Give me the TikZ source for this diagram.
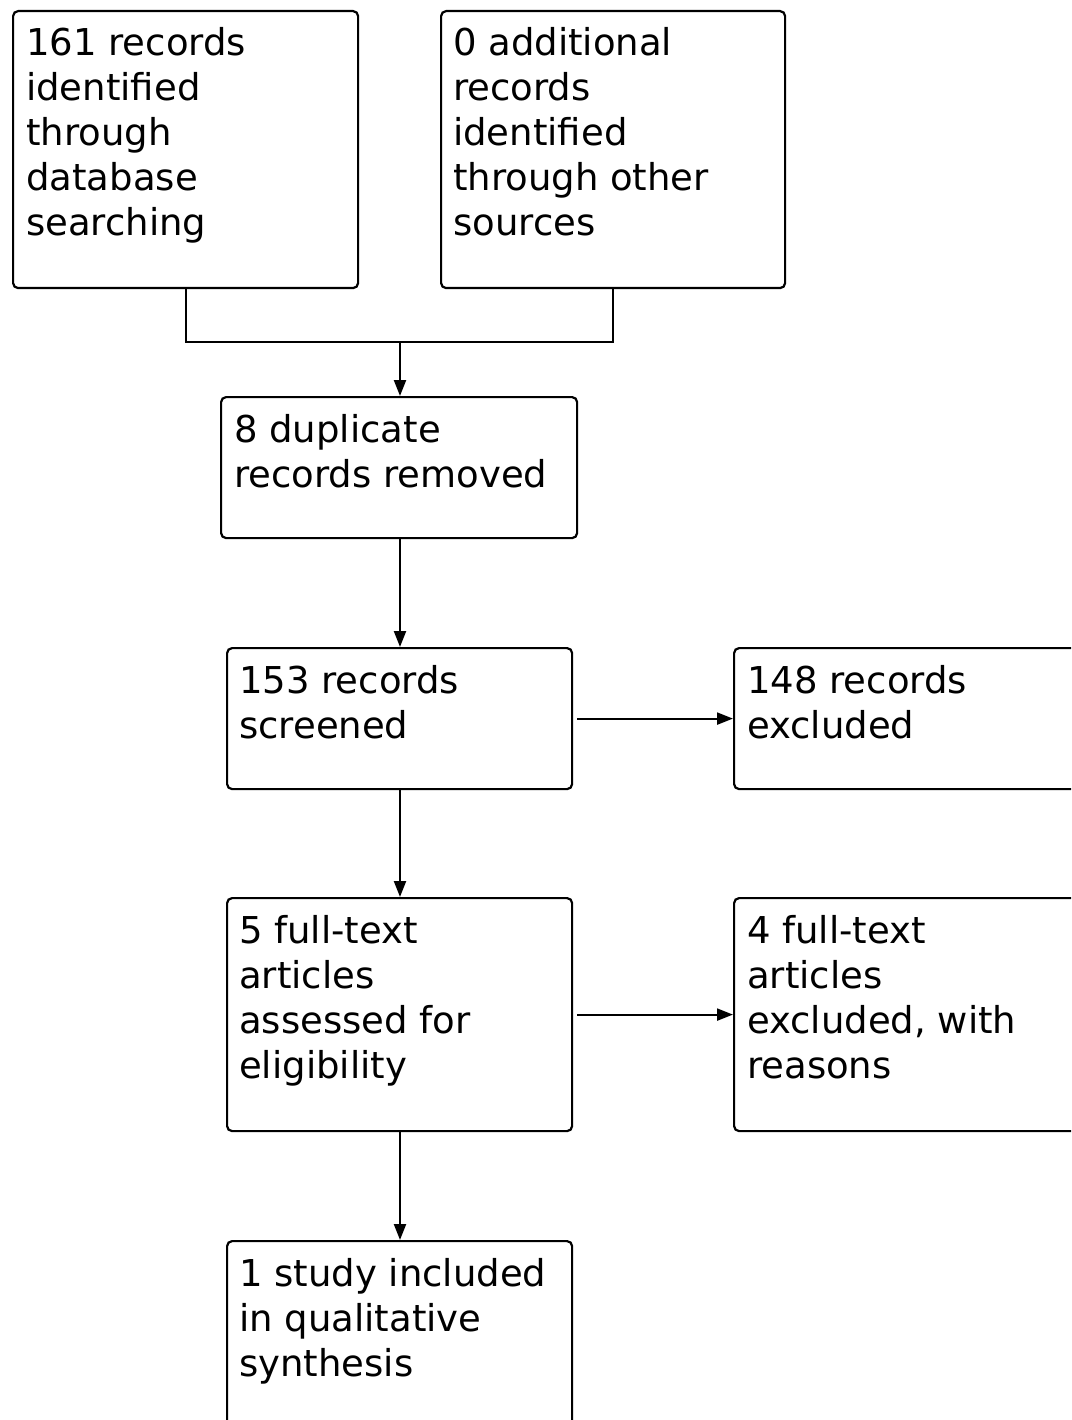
\documentclass[tikz,border=0pt]{standalone}
\usepackage{fontspec}
\setmainfont{DejaVu Sans}
\usetikzlibrary{arrows.meta}
\tikzset{
  box/.style={draw, line width=2.2pt, rounded corners=5pt, inner sep=0pt, anchor=north west},
  txt/.style={inner sep=0pt, anchor=base west, font=\fontsize{37pt}{45pt}\selectfont},
  conn/.style={line width=2.2pt},
  arr/.style={line width=2.2pt, -{Triangle[length=16pt,width=12pt]}},
}
\newcommand{\lines}[1]{\parbox[t]{20cm}{\fontsize{37pt}{45pt}\selectfont\raggedright #1}}
\begin{document}
\begin{tikzpicture}[x=1pt,y=1pt]
\useasboundingbox (0,0) rectangle (1071,-1420);
\clip (0,0) rectangle (1071,-1420);
% boxes
\node[box, minimum width=345pt, minimum height=277pt] (b1) at (12,-10) {};
\node[box, minimum width=344pt, minimum height=277pt] (b2) at (440,-10) {};
\node[box, minimum width=356pt, minimum height=141pt] (b3) at (220,-396) {};
\node[box, minimum width=345pt, minimum height=141pt] (b4) at (226,-647) {};
\node[box, minimum width=400pt, minimum height=141pt] (b5) at (733,-647) {};
\node[box, minimum width=345pt, minimum height=233pt] (b6) at (226,-897) {};
\node[box, minimum width=400pt, minimum height=233pt] (b7) at (733,-897) {};
\node[box, minimum width=345pt, minimum height=240pt] (b8) at (226,-1240) {};
% texts
\node[txt] (t1) at (26,-56) {\lines{161 records\\identified\\through\\database\\searching}};
\node[txt] (t2) at (453,-56) {\lines{0 additional\\records\\identified\\through other\\sources}};
\node[txt] (t3) at (234,-442) {\lines{8 duplicate\\records removed}};
\node[txt] (t4) at (239,-693) {\lines{153 records\\screened}};
\node[txt] (t5) at (747,-693) {\lines{148 records\\excluded}};
\node[txt] (t6) at (239,-943) {\lines{5 full-text\\articles\\assessed for\\eligibility}};
\node[txt] (t7) at (747,-943) {\lines{4 full-text\\articles\\excluded, with\\reasons}};
\node[txt] (t8) at (239,-1286) {\lines{1 study included\\in qualitative\\synthesis}};
% connectors
\coordinate (j) at (400,-342);
\draw[conn] (b1.south) |- (j);
\draw[conn] (b2.south) |- (j);
\draw[arr] (j) -- (j |- b3.north);
\draw[arr] (b3.south -| j) -- (b4.north -| j);
\draw[arr] (b4.south -| j) -- (b6.north -| j);
\draw[arr] (b6.south -| j) -- (b8.north -| j);
\draw[arr, shorten <=4pt] (b4.east) -- (b4.east -| b5.west);
\draw[arr, shorten <=4pt] (b6.east) -- (b6.east -| b7.west);
\end{tikzpicture}
\end{document}
